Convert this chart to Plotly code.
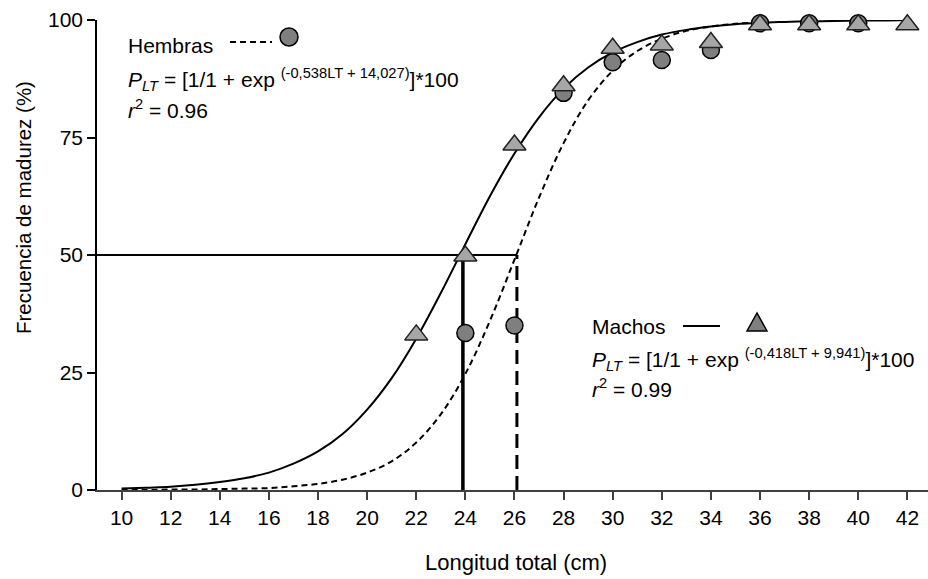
import plotly.graph_objects as go

# ---------------- data ----------------
# observed maturity frequency (%) by total length (cm)
len_h = [24, 26, 28, 30, 32, 34, 36, 38, 40]
pct_h = [33.4, 35.0, 84.5, 91.0, 91.5, 93.6, 99.3, 99.3, 99.3]
len_m = [22, 24, 26, 28, 30, 32, 34, 36, 38, 40, 42]
pct_m = [33.0, 49.8, 73.4, 86.0, 94.0, 94.7, 95.2, 99.0, 99.0, 99.0, 99.0]

# fitted curves (1 cm steps)
curve_x_m = list(range(10, 43))
curve_y_m = [0.3, 0.5, 0.7, 1.1, 1.7, 2.5, 3.7, 5.6, 8.2, 11.9, 17.1, 23.8, 32.2,
             41.9, 52.3, 62.5, 71.6, 79.3, 85.4, 89.9, 93.1, 95.3, 96.9, 97.9,
             98.6, 99.1, 99.4, 99.6, 99.7, 99.8, 99.9, 99.9, 100.0]
curve_x_h = list(range(10, 37))
curve_y_h = [0.0, 0.0, 0.1, 0.1, 0.2, 0.3, 0.4, 0.8, 1.3, 2.2, 3.7, 6.1, 10.1,
             16.1, 24.7, 36.0, 49.0, 62.2, 73.8, 82.9, 89.2, 93.4, 96.0, 97.7,
             98.6, 99.2, 99.5]

# length at 50 % maturity
l50_m = 23.9
l50_h = 26.1
x_min, x_max = 9, 42.84
tick_vals = list(range(10, 44, 2))
y_ticks = [0, 25, 50, 75, 100]

FONT = "Liberation Sans Narrow, Arial Narrow, Liberation Sans, Arial, sans-serif"
CIRC_FILL = "#7f7f7f"
TRI_FILL = "#a6a6a6"

fig = go.Figure()

# reference lines at 50 %
fig.add_trace(go.Scatter(x=[x_min, l50_h], y=[50, 50], mode="lines",
                         line=dict(color="black", width=2), hoverinfo="skip"))
fig.add_trace(go.Scatter(x=[l50_m, l50_m], y=[0, 50], mode="lines",
                         line=dict(color="black", width=3.5), hoverinfo="skip"))
fig.add_trace(go.Scatter(x=[l50_h, l50_h], y=[0, 50], mode="lines",
                         line=dict(color="black", width=3, dash="14px,7px"), hoverinfo="skip"))

# fitted curves
fig.add_trace(go.Scatter(x=curve_x_h, y=curve_y_h, mode="lines", line_shape="spline",
                         line=dict(color="black", width=2, dash="6px,4px"), hoverinfo="skip"))
fig.add_trace(go.Scatter(x=curve_x_m, y=curve_y_m, mode="lines", line_shape="spline",
                         line=dict(color="black", width=2), hoverinfo="skip"))

# observed points
fig.add_trace(go.Scatter(x=len_h, y=pct_h, mode="markers", cliponaxis=False,
                         marker=dict(symbol="circle", size=17, color=CIRC_FILL,
                                     line=dict(color="black", width=1.5))))
fig.add_trace(go.Scatter(x=len_m, y=pct_m, mode="markers", cliponaxis=False,
                         marker=dict(symbol="triangle-up", size=20, color=TRI_FILL,
                                     line=dict(color="#222222", width=1.5))))

W, H = 928, 579
L, R, T, B = 97, 0, 20, 89
pw, ph = W - L - R, H - T - B


def px(xp):
    return (xp - L) / pw


def py(yp):
    return (H - B - yp) / ph


shapes = []
# legend sample: Hembras dashed line + circle
shapes.append(dict(type="line", xref="paper", yref="paper", x0=px(230), x1=px(272),
                   y0=py(42), y1=py(42), line=dict(color="black", width=2, dash="6px,4px")))
shapes.append(dict(type="circle", xref="paper", yref="paper", x0=px(280), x1=px(298),
                   y0=py(28), y1=py(46), fillcolor=CIRC_FILL, line=dict(color="black", width=1.5)))
# legend sample: Machos solid line + triangle
shapes.append(dict(type="line", xref="paper", yref="paper", x0=px(683), x1=px(720),
                   y0=py(326), y1=py(326), line=dict(color="black", width=2)))
shapes.append(dict(type="path", xref="paper", yref="paper",
                   path=f"M {px(747)},{py(331)} L {px(767)},{py(331)} L {px(757)},{py(313)} Z",
                   fillcolor=CIRC_FILL, line=dict(color="black", width=1.5)))

ann = []


def txt(x, y, s, size=21, anchor="left", angle=0):
    ann.append(dict(xref="paper", yref="paper", x=px(x), y=py(y), xanchor=anchor,
                    yanchor="middle", text=s, showarrow=False, textangle=angle,
                    font=dict(family=FONT, size=size, color="black")))


txt(126, 45, "Hembras")
txt(126, 80, "<i>P</i><sub><i>LT</i></sub> = [1/1 + exp <sup>(-0,538LT + 14,027)</sup>]*100")
txt(126, 109, "<i>r</i><sup>2</sup> = 0.96")
txt(590, 326, "Machos")
txt(590, 360, "<i>P</i><sub><i>LT</i></sub> = [1/1 + exp <sup>(-0,418LT + 9,941)</sup>]*100")
txt(590, 388, "<i>r</i><sup>2</sup> = 0.99")
# axis titles
txt(516, 562, "Longitud total (cm)", size=22, anchor="center")
txt(23, 208, "Frecuencia de madurez (%)", size=20.5, anchor="center", angle=-90)

fig.update_layout(
    width=W, height=H,
    margin=dict(l=L, r=R, t=T, b=B),
    paper_bgcolor="white", plot_bgcolor="white",
    showlegend=False,
    font=dict(family=FONT, size=21, color="black"),
    shapes=shapes, annotations=ann,
    xaxis=dict(range=[x_min, x_max], tickvals=tick_vals, ticks="outside", ticklen=8,
               tickwidth=1.5, tickcolor="#404040", showline=True, linecolor="#404040",
               linewidth=2, showgrid=False, zeroline=False,
               tickfont=dict(family=FONT, size=21)),
    yaxis=dict(range=[0, 100], tickvals=y_ticks, ticks="outside", ticklen=8,
               tickwidth=1.5, tickcolor="black", showline=True, linecolor="black",
               linewidth=1.5, showgrid=False, zeroline=False,
               tickfont=dict(family=FONT, size=21)),
)

fig.write_html("out.html")
